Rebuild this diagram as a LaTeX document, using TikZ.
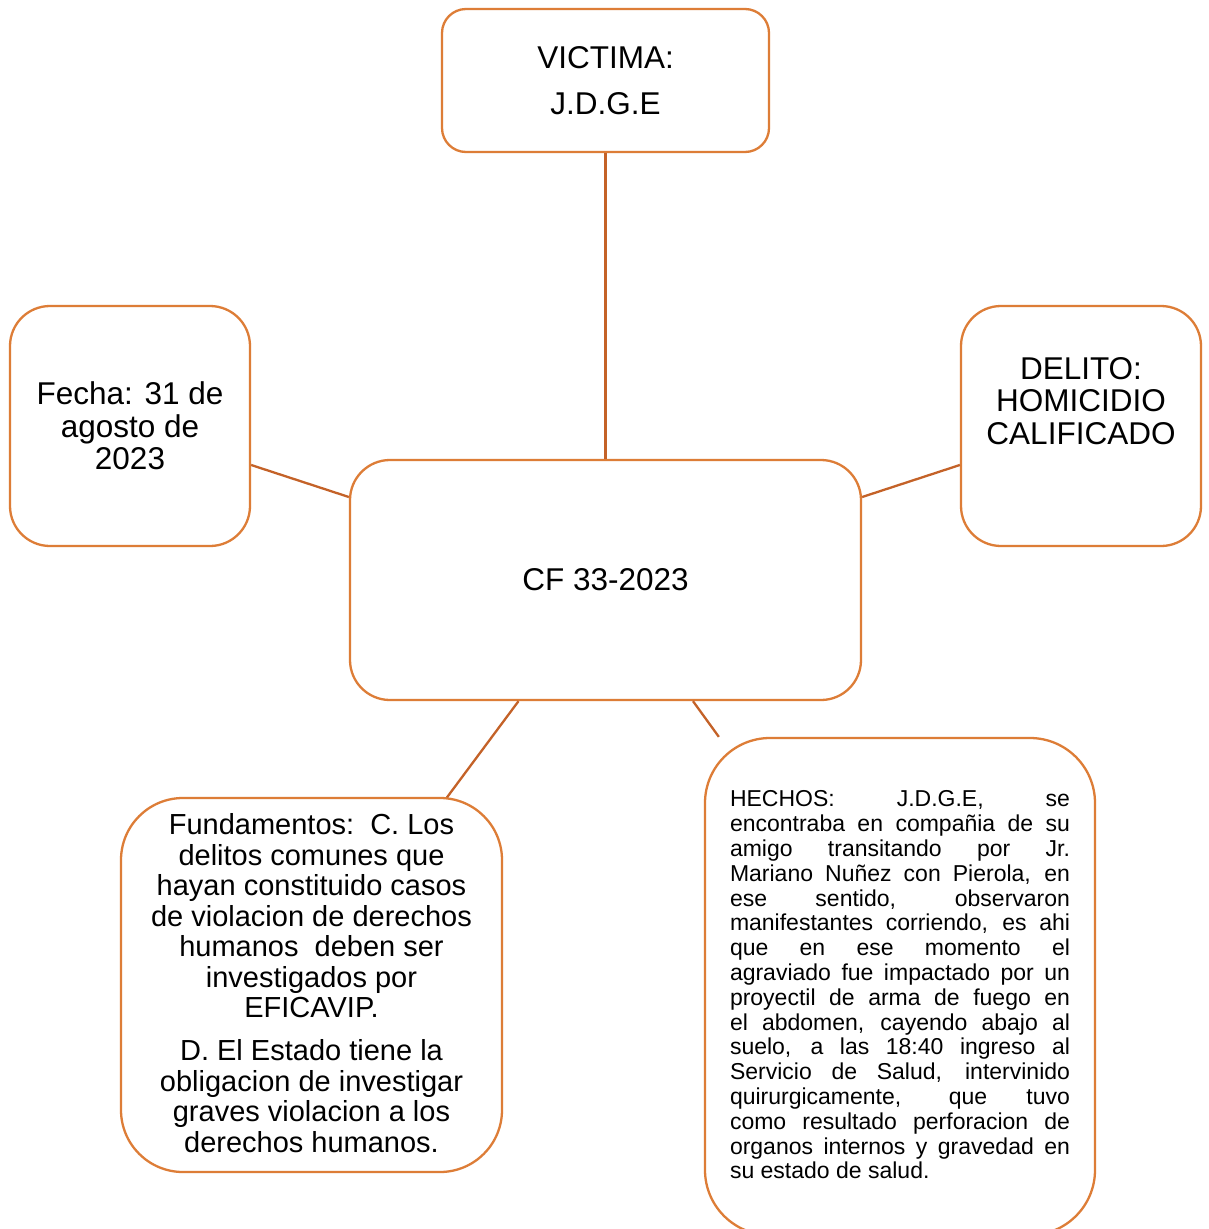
\documentclass[tikz,border=0pt]{standalone}
\usepackage{fontspec}
\setmainfont{Liberation Sans}
\definecolor{boxc}{RGB}{221,125,55}
\definecolor{linec}{RGB}{196,98,40}
\tikzset{
  boxnode/.style={draw=boxc, line width=2.3pt, fill=white, inner sep=0pt},
  conn/.style={draw=linec, line width=2.3pt},
  bigtext/.style={font=\fontsize{31.5}{32.5}\selectfont, align=center, inner sep=0pt},
}
\begin{document}
\begin{tikzpicture}[x=1pt,y=-1pt]
\useasboundingbox (0,0) rectangle (1209,1229);
\fill[white] (0,0) rectangle (1209,1229);

% boxes
\node[boxnode, rounded corners=24pt, minimum width=327pt, minimum height=143pt] (victima) at (605.5,80.5) {};
\node[boxnode, rounded corners=40pt, minimum width=240pt, minimum height=240pt] (fecha) at (130,426) {};
\node[boxnode, rounded corners=40pt, minimum width=240pt, minimum height=240pt] (delito) at (1081,426) {};
\node[boxnode, rounded corners=40pt, minimum width=511pt, minimum height=240pt] (cf) at (605.5,580) {};
\node[boxnode, rounded corners=62pt, minimum width=381pt, minimum height=374pt] (fund) at (311.5,985) {};
\node[boxnode, rounded corners=65pt, minimum width=390pt, minimum height=497pt] (hechos) at (900,986.5) {};

% connectors
\draw[conn] (victima.south) -- (cf.north);
\draw[conn] ([yshift=-39pt]fecha.east) -- ([yshift=83pt]cf.west);
\draw[conn] ([yshift=-39pt]delito.west) -- ([yshift=83pt]cf.east);
\draw[conn] ([xshift=-87pt]cf.south) -- ([xshift=135.5pt,yshift=-0.5pt]fund.north);
\draw[conn] ([xshift=87.5pt]cf.south) -- ([xshift=15pt]hechos.north west);

% texts
\node[bigtext, font=\fontsize{31.5}{46}\selectfont] (victimaT) at (605.5,80.5) {VICTIMA:\\J.D.G.E};
\node[bigtext] (fechaT) at (130,426) {Fecha: 31 de\\agosto de\\2023};
\node[bigtext] (delitoT) at (1081,401) {DELITO:\\HOMICIDIO\\CALIFICADO};
\node[bigtext] (cfT) at (605.5,580) {CF 33-2023};
\node[align=center, inner sep=0pt, font=\fontsize{29}{30.5}\selectfont] (fundT) at (311.5,983) {%
Fundamentos:\ \ C. Los\\
delitos comunes que\\
hayan constituido casos\\
de violacion de derechos\\
humanos\ \ deben ser\\
investigados por\\
EFICAVIP.\\[12.5pt]
D. El Estado tiene la\\
obligacion de investigar\\
graves violacion a los\\
derechos humanos.};
\node[align=left, inner sep=0pt, font=\fontsize{23}{24.8}\selectfont] (hechosT) at (900,985) {%
\makebox[340pt][s]{HECHOS: J.D.G.E, se}\\
\makebox[340pt][s]{encontraba en compañia de su}\\
\makebox[340pt][s]{amigo transitando por Jr.}\\
\makebox[340pt][s]{Mariano Nuñez con Pierola, en}\\
\makebox[340pt][s]{ese sentido, observaron}\\
\makebox[340pt][s]{manifestantes corriendo, es ahi}\\
\makebox[340pt][s]{que en ese momento el}\\
\makebox[340pt][s]{agraviado fue impactado por un}\\
\makebox[340pt][s]{proyectil de arma de fuego en}\\
\makebox[340pt][s]{el abdomen, cayendo abajo al}\\
\makebox[340pt][s]{suelo, a las 18:40 ingreso al}\\
\makebox[340pt][s]{Servicio de Salud, intervinido}\\
\makebox[340pt][s]{quirurgicamente, que tuvo}\\
\makebox[340pt][s]{como resultado perforacion de}\\
\makebox[340pt][s]{organos internos y gravedad en}\\
\makebox[340pt][l]{su estado de salud.}};
\end{tikzpicture}
\end{document}
